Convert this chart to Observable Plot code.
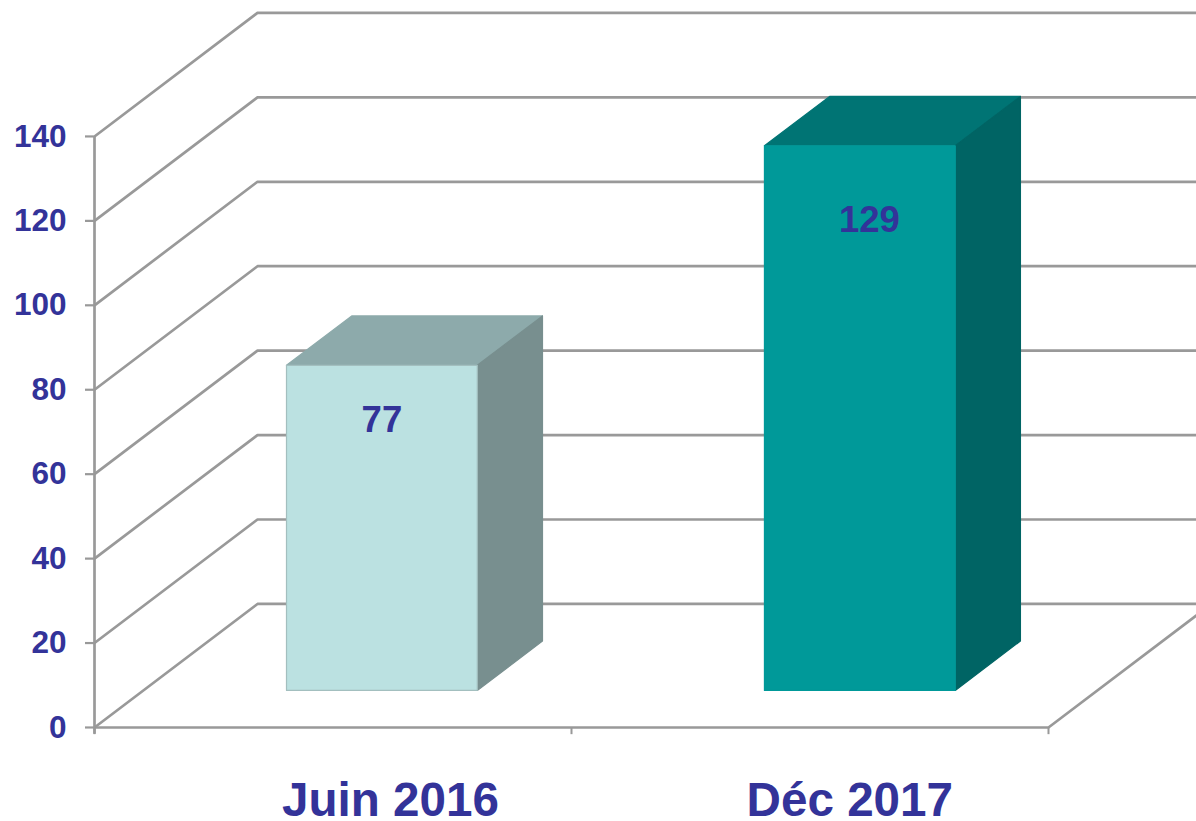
<!DOCTYPE html>
<html>
<head>
<meta charset="utf-8">
<script src="https://cdn.jsdelivr.net/npm/d3@7"></script>
<script src="https://cdn.jsdelivr.net/npm/@observablehq/plot@0.6"></script>
<style>
html,body{margin:0;padding:0;background:#fff;}
svg{display:block;}
</style>
</head>
<body>
<div id="chart"></div>
<script>
const categories = ["Juin 2016", "Déc 2017"];
const values = [77, 129];
const yTicks = [0, 20, 40, 60, 80, 100, 120, 140];
const xTicks = [0, 1, 2];
const frontColors = ["#bbe1e1", "#009999"];
const topColors = ["#8daaab", "#007474"];
const sideColors = ["#788f8f", "#006464"];
const edgeColors = ["#a3bfbf", "#009999"];
const barCenters = [0.5, 1.502];
const valueLabelX = [0.6025, 1.6247];
const valueLabelY = [72.7, 120.1];
const categoryLabelX = [0.6205, 1.5835];

const ink = "#333399";
const gridColor = "#999999";
const font = "'Liberation Sans', Arial, sans-serif";

// Oblique depth of the fake 3D box, in data units
const depthX = 0.3417, depthY = 29.26;
const barWidth = 0.4, depthFront = 0.3, depthBack = 0.7;
const pt = (x, y, d) => ({x: x + d * depthX, y: y + d * depthY});
const rightEnd = 2 + depthX;

const gridMarks = yTicks.map((v) =>
  Plot.line([pt(0, v, 0), pt(0, v, 1), {x: rightEnd, y: v + depthY}], {
    x: "x", y: "y", stroke: gridColor, strokeWidth: 2.7, clip: true
  })
);

const barMarks = categories.flatMap((c, i) => {
  const x0 = barCenters[i] - barWidth / 2, x1 = x0 + barWidth, v = values[i];
  const face = (pts, fill, stroke) =>
    Plot.line([...pts, pts[0]], {x: "x", y: "y", fill, stroke, strokeWidth: 1.2, clip: true});
  return [
    face([pt(x0, v, depthFront), pt(x1, v, depthFront), pt(x1, v, depthBack), pt(x0, v, depthBack)], topColors[i], topColors[i]),
    face([pt(x1, 0, depthFront), pt(x1, v, depthFront), pt(x1, v, depthBack), pt(x1, 0, depthBack)], sideColors[i], sideColors[i]),
    face([pt(x0, 0, depthFront), pt(x1, 0, depthFront), pt(x1, v, depthFront), pt(x0, v, depthFront)], frontColors[i], edgeColors[i])
  ];
});

const chart = Plot.plot({
  width: 1196,
  height: 821,
  marginLeft: 94,
  marginRight: 0,
  marginTop: 0,
  marginBottom: 0,
  style: {background: "#fff", fontFamily: font},
  x: {domain: [0, 2.3103], range: [94, 1196], axis: null},
  y: {domain: [-22.27, 172.2], range: [821, 0]},
  marks: [
    ...gridMarks,
    // floor front edge and right floor edge
    Plot.line([pt(0, 0, 0), pt(2, 0, 0), pt(2, 0, 1)], {x: "x", y: "y", stroke: gridColor, strokeWidth: 2.7, clip: true}),
    Plot.ruleX([0], {y1: -1.6, y2: 140, stroke: gridColor, strokeWidth: 2.7}),
    Plot.ruleX(xTicks, {y1: 0, y2: -1.7, stroke: gridColor, strokeWidth: 2}),
    Plot.axisY({
      ticks: yTicks,
      tickFormat: (d) => d,
      label: null,
      tickSize: 9,
      tickPadding: 19,
      stroke: gridColor,
      strokeWidth: 2.2,
      fill: ink,
      fontSize: 31.5,
      fontWeight: "bold",
      fontFamily: font
    }),
    ...barMarks,
    Plot.text(values, {
      x: valueLabelX,
      y: valueLabelY,
      text: values.map(String),
      fill: ink, fontSize: 36.5, fontWeight: "bold", fontFamily: font
    }),
    Plot.text(categories, {
      x: categoryLabelX,
      y: categories.map(() => -17.3),
      text: categories,
      fill: ink, fontSize: 47.6, fontWeight: "bold", fontFamily: font
    })
  ]
});
document.getElementById("chart").appendChild(chart);
</script>
</body>
</html>
